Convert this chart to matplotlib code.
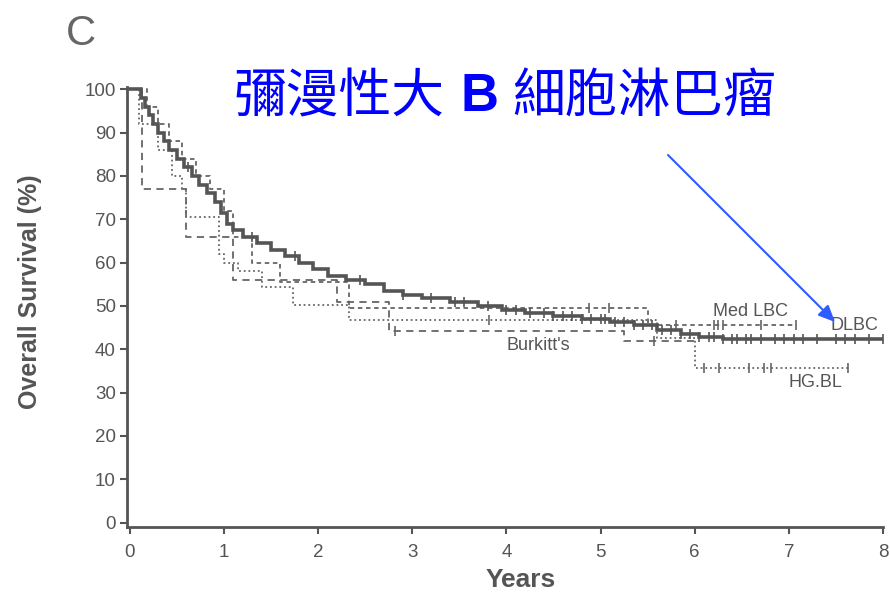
# Kaplan-Meier overall survival by lymphoma subtype (panel C)
import matplotlib
matplotlib.use("Agg")
import matplotlib.pyplot as plt
import numpy as np


# step-curve knots (years, % surviving)
dlbc_years = [0, 0.12, 0.16, 0.2, 0.25, 0.3, 0.36, 0.42, 0.5, 0.58, 0.66,
              0.74, 0.82, 0.9, 0.97, 1.03, 1.1, 1.2, 1.35, 1.5, 1.65, 1.8,
              1.95, 2.1, 2.3, 2.5, 2.7, 2.9, 3.1, 3.4, 3.7, 3.95, 4.2, 4.5,
              4.8, 5.1, 5.35, 5.6, 5.85, 6.05, 6.3, 8.0]
dlbc_surv = [100, 98, 96, 94, 92, 90, 88, 86, 84, 82, 80, 78, 76, 74, 71.5,
             69, 67.5, 66, 64.5, 63, 61.5, 60, 58.5, 57, 56, 55, 53.5, 52.5,
             51.8, 51, 50, 49, 48.3, 47.8, 47, 46.2, 45.5, 44.5, 43.5, 42.8,
             42.3, 42.3]
dlbc_censor = [0.62, 1.3, 1.75, 2.45, 2.9, 3.2, 3.45, 3.55, 3.8, 4.0, 4.1,
               4.25, 4.4, 4.5, 4.6, 4.7, 4.8, 4.9, 5.0, 5.05, 5.15, 5.25,
               5.35, 5.45, 5.55, 5.65, 5.75, 5.85, 5.95, 6.05, 6.15, 6.2,
               6.3, 6.4, 6.45, 6.55, 6.6, 6.7, 6.85, 6.95, 7.05, 7.15, 7.3,
               7.5, 7.6, 7.7, 7.85, 8.0]

med_years = [0, 0.18, 0.3, 0.42, 0.55, 0.7, 0.85, 1.0, 1.1, 1.3, 1.6, 2.33,
             5.5, 7.08]
med_surv = [100, 96, 92, 88, 84, 80, 77, 72, 66, 60, 55.5, 49.5, 45.5, 45.5]
med_censor = [4.88, 5.09, 5.8, 6.2, 6.25, 6.3, 6.7, 7.08]

burkitt_years = [0, 0.13, 0.6, 1.1, 2.2, 2.75, 5.25, 6.05]
burkitt_surv = [100, 77, 66, 56, 51, 44.2, 42, 42]
burkitt_censor = [2.82, 5.57]

hgbl_years = [0, 0.1, 0.3, 0.45, 0.55, 0.6, 0.95, 1.0, 1.15, 1.4, 1.73,
              2.33, 5.6, 6.0, 7.63]
hgbl_surv = [100, 92, 86, 80, 77, 70.5, 62, 60, 58, 54.4, 50.2, 46.8, 42.5,
             35.8, 35.8]
hgbl_censor = [3.82, 6.1, 6.26, 6.58, 6.74, 6.81, 7.63]

year_ticks = [0, 1, 2, 3, 4, 5, 6, 7, 8]
surv_ticks = [0, 10, 20, 30, 40, 50, 60, 70, 80, 90, 100]

GREY = "#555555"
W, H = 890, 595


def draw_curve(ax, years, surv, censor, lw, dashes, color):
    ax.step(years, surv, where="post", color=color, lw=lw,
            dashes=dashes if dashes else (None, None),
            solid_joinstyle="miter")
    idx = np.searchsorted(years, censor, side="right") - 1
    ax.plot(censor, np.asarray(surv)[idx], ls="none", marker="|",
            ms=7, mew=1.2, color=color)


def main() -> None:
    plt.rcParams["font.family"] = ["Liberation Sans", "DejaVu Sans"]

    fig = plt.figure(figsize=(W / 100, H / 100), dpi=100)
    ax = fig.add_axes([127 / W, 68 / H, (883 - 127) / W, (527 - 85) / H])

    draw_curve(ax, hgbl_years, hgbl_surv, hgbl_censor, 1.3, (1, 1.6), "#666666")
    draw_curve(ax, burkitt_years, burkitt_surv, burkitt_censor, 1.3, (4, 3), "#666666")
    draw_curve(ax, med_years, med_surv, med_censor, 1.3, (2.5, 2), "#666666")
    draw_curve(ax, dlbc_years, dlbc_surv, dlbc_censor, 2.6, None, GREY)

    ax.set_xlim(-0.03, 8.0)
    ax.set_ylim(-1, 101)
    ax.set_xticks(year_ticks)
    ax.set_yticks(surv_ticks)

    for side in ["top", "right"]:
        ax.spines[side].set_visible(False)
    for side in ["left", "bottom"]:
        ax.spines[side].set_color(GREY)
        ax.spines[side].set_linewidth(2)
    ax.spines["left"].set_bounds(-1, 100.5)

    ax.tick_params(axis="both", direction="out", length=5, width=1.5,
                   color=GREY, labelcolor=GREY, labelsize=13.5)
    ax.tick_params(axis="x", pad=7)
    ax.tick_params(axis="y", pad=3)

    label_kw = dict(fontsize=13, color=GREY)
    ax.text(6.59, 48.7, "Med LBC", ha="center", va="center", **label_kw)
    ax.text(7.7, 45.5, "DLBC", ha="center", va="center", **label_kw)
    ax.text(7.28, 32.3, "HG.BL", ha="center", va="center", **label_kw)
    ax.text(4.34, 40.9, "Burkitt's", ha="center", va="center", **label_kw)

    fig.text(30 / W, 1 - 292 / H, "Overall Survival (%)", rotation=90,
             ha="center", va="center", fontsize=18, fontweight="bold",
             color=GREY)
    fig.text(521 / W, 1 - 580 / H, "Years", ha="center", va="center",
             fontsize=19, fontweight="bold", color=GREY)
    fig.text(81 / W, 1 - 34 / H, "C", ha="center", va="center",
             fontsize=30, color="#666666")

    # blue annotation on top of the scan
    blue = "#0000ff"
    cjk = ["Noto Sans CJK TC", "DejaVu Sans"]
    fig.text(233 / W, 1 - 97 / H, "彌漫性大", family=cjk, fontsize=38,
             color=blue, ha="left", va="center")
    fig.text(480 / W, 1 - 97 / H, "B", family=["Liberation Sans"],
             fontsize=38, fontweight="bold", color=blue, ha="center",
             va="center")
    fig.text(512 / W, 1 - 97 / H, "細胞淋巴瘤", family=cjk, fontsize=38,
             color=blue, ha="left", va="center")
    fig.add_artist(plt.Annotation(
        "", xy=(835 / W, 1 - 322 / H), xytext=(668 / W, 1 - 155 / H),
        xycoords="figure fraction", textcoords="figure fraction",
        arrowprops=dict(arrowstyle="-|>,head_length=1.0,head_width=0.45",
                        color="#2f5cff", lw=1.5, shrinkA=0, shrinkB=0),
    ))

    fig.savefig("out.png", dpi=100)
    plt.close(fig)


if __name__ == "__main__":
    main()
